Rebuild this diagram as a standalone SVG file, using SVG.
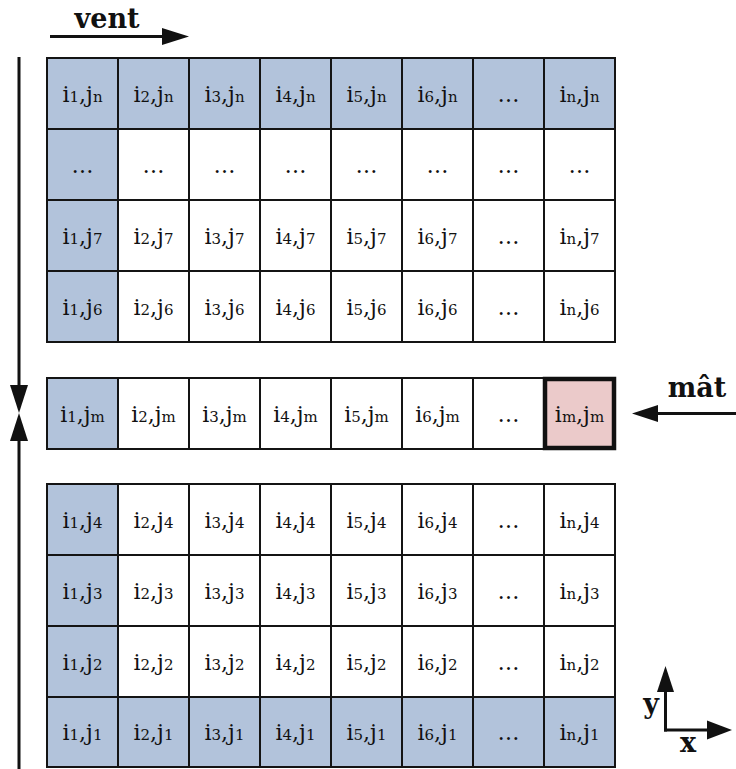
<svg xmlns="http://www.w3.org/2000/svg" width="736" height="769" viewBox="0 0 736 769">
<style>
.c{stroke:#141414;stroke-width:2}
.b{fill:#B2C3DB}
.w{fill:#ffffff}
.p{fill:#EBCACA;stroke:#111;stroke-width:4.5}
.t{font-family:"DejaVu Serif","Liberation Serif",serif;font-size:22px;text-anchor:middle;fill:#111}
.s{font-size:15px}
.lb{font-family:"DejaVu Serif","Liberation Serif",serif;font-size:27px;font-weight:bold;text-anchor:middle;fill:#111}
.ln{stroke:#111;stroke-width:3;fill:none}
.ah{fill:#111}
</style>
<rect width="736" height="769" fill="#fff"/>
<!-- top block row jn -->
<g id="r-i1-jn"><rect class="c b" x="47" y="58" width="71" height="71"/><text class="t" x="82.5" y="102">i<tspan class="s">1</tspan>,j<tspan class="s">n</tspan></text></g>
<g id="r-i2-jn"><rect class="c b" x="118" y="58" width="71" height="71"/><text class="t" x="153.5" y="102">i<tspan class="s">2</tspan>,j<tspan class="s">n</tspan></text></g>
<g id="r-i3-jn"><rect class="c b" x="189" y="58" width="71" height="71"/><text class="t" x="224.5" y="102">i<tspan class="s">3</tspan>,j<tspan class="s">n</tspan></text></g>
<g id="r-i4-jn"><rect class="c b" x="260" y="58" width="71" height="71"/><text class="t" x="295.5" y="102">i<tspan class="s">4</tspan>,j<tspan class="s">n</tspan></text></g>
<g id="r-i5-jn"><rect class="c b" x="331" y="58" width="71" height="71"/><text class="t" x="366.5" y="102">i<tspan class="s">5</tspan>,j<tspan class="s">n</tspan></text></g>
<g id="r-i6-jn"><rect class="c b" x="402" y="58" width="71" height="71"/><text class="t" x="437.5" y="102">i<tspan class="s">6</tspan>,j<tspan class="s">n</tspan></text></g>
<g id="r-dots-jn"><rect class="c b" x="473" y="58" width="71" height="71"/><text class="t" x="508.5" y="102">…</text></g>
<g id="r-in-jn"><rect class="c b" x="544" y="58" width="71" height="71"/><text class="t" x="579.5" y="102">i<tspan class="s">n</tspan>,j<tspan class="s">n</tspan></text></g>
<!-- dots row -->
<g id="r-i1-dots"><rect class="c b" x="47" y="129" width="71" height="71"/><text class="t" x="82.5" y="173">…</text></g>
<g id="r-i2-dots"><rect class="c w" x="118" y="129" width="71" height="71"/><text class="t" x="153.5" y="173">…</text></g>
<g id="r-i3-dots"><rect class="c w" x="189" y="129" width="71" height="71"/><text class="t" x="224.5" y="173">…</text></g>
<g id="r-i4-dots"><rect class="c w" x="260" y="129" width="71" height="71"/><text class="t" x="295.5" y="173">…</text></g>
<g id="r-i5-dots"><rect class="c w" x="331" y="129" width="71" height="71"/><text class="t" x="366.5" y="173">…</text></g>
<g id="r-i6-dots"><rect class="c w" x="402" y="129" width="71" height="71"/><text class="t" x="437.5" y="173">…</text></g>
<g id="r-dots-dots"><rect class="c w" x="473" y="129" width="71" height="71"/><text class="t" x="508.5" y="173">…</text></g>
<g id="r-in-dots"><rect class="c w" x="544" y="129" width="71" height="71"/><text class="t" x="579.5" y="173">…</text></g>
<!-- j7 -->
<g id="r-i1-j7"><rect class="c b" x="47" y="200" width="71" height="71"/><text class="t" x="82.5" y="244">i<tspan class="s">1</tspan>,j<tspan class="s">7</tspan></text></g>
<g id="r-i2-j7"><rect class="c w" x="118" y="200" width="71" height="71"/><text class="t" x="153.5" y="244">i<tspan class="s">2</tspan>,j<tspan class="s">7</tspan></text></g>
<g id="r-i3-j7"><rect class="c w" x="189" y="200" width="71" height="71"/><text class="t" x="224.5" y="244">i<tspan class="s">3</tspan>,j<tspan class="s">7</tspan></text></g>
<g id="r-i4-j7"><rect class="c w" x="260" y="200" width="71" height="71"/><text class="t" x="295.5" y="244">i<tspan class="s">4</tspan>,j<tspan class="s">7</tspan></text></g>
<g id="r-i5-j7"><rect class="c w" x="331" y="200" width="71" height="71"/><text class="t" x="366.5" y="244">i<tspan class="s">5</tspan>,j<tspan class="s">7</tspan></text></g>
<g id="r-i6-j7"><rect class="c w" x="402" y="200" width="71" height="71"/><text class="t" x="437.5" y="244">i<tspan class="s">6</tspan>,j<tspan class="s">7</tspan></text></g>
<g id="r-dots-j7"><rect class="c w" x="473" y="200" width="71" height="71"/><text class="t" x="508.5" y="244">…</text></g>
<g id="r-in-j7"><rect class="c w" x="544" y="200" width="71" height="71"/><text class="t" x="579.5" y="244">i<tspan class="s">n</tspan>,j<tspan class="s">7</tspan></text></g>
<!-- j6 -->
<g id="r-i1-j6"><rect class="c b" x="47" y="271" width="71" height="71"/><text class="t" x="82.5" y="315">i<tspan class="s">1</tspan>,j<tspan class="s">6</tspan></text></g>
<g id="r-i2-j6"><rect class="c w" x="118" y="271" width="71" height="71"/><text class="t" x="153.5" y="315">i<tspan class="s">2</tspan>,j<tspan class="s">6</tspan></text></g>
<g id="r-i3-j6"><rect class="c w" x="189" y="271" width="71" height="71"/><text class="t" x="224.5" y="315">i<tspan class="s">3</tspan>,j<tspan class="s">6</tspan></text></g>
<g id="r-i4-j6"><rect class="c w" x="260" y="271" width="71" height="71"/><text class="t" x="295.5" y="315">i<tspan class="s">4</tspan>,j<tspan class="s">6</tspan></text></g>
<g id="r-i5-j6"><rect class="c w" x="331" y="271" width="71" height="71"/><text class="t" x="366.5" y="315">i<tspan class="s">5</tspan>,j<tspan class="s">6</tspan></text></g>
<g id="r-i6-j6"><rect class="c w" x="402" y="271" width="71" height="71"/><text class="t" x="437.5" y="315">i<tspan class="s">6</tspan>,j<tspan class="s">6</tspan></text></g>
<g id="r-dots-j6"><rect class="c w" x="473" y="271" width="71" height="71"/><text class="t" x="508.5" y="315">…</text></g>
<g id="r-in-j6"><rect class="c w" x="544" y="271" width="71" height="71"/><text class="t" x="579.5" y="315">i<tspan class="s">n</tspan>,j<tspan class="s">6</tspan></text></g>
<!-- jm -->
<g id="r-i1-jm"><rect class="c b" x="47" y="378" width="71" height="71"/><text class="t" x="82.5" y="422">i<tspan class="s">1</tspan>,j<tspan class="s">m</tspan></text></g>
<g id="r-i2-jm"><rect class="c w" x="118" y="378" width="71" height="71"/><text class="t" x="153.5" y="422">i<tspan class="s">2</tspan>,j<tspan class="s">m</tspan></text></g>
<g id="r-i3-jm"><rect class="c w" x="189" y="378" width="71" height="71"/><text class="t" x="224.5" y="422">i<tspan class="s">3</tspan>,j<tspan class="s">m</tspan></text></g>
<g id="r-i4-jm"><rect class="c w" x="260" y="378" width="71" height="71"/><text class="t" x="295.5" y="422">i<tspan class="s">4</tspan>,j<tspan class="s">m</tspan></text></g>
<g id="r-i5-jm"><rect class="c w" x="331" y="378" width="71" height="71"/><text class="t" x="366.5" y="422">i<tspan class="s">5</tspan>,j<tspan class="s">m</tspan></text></g>
<g id="r-i6-jm"><rect class="c w" x="402" y="378" width="71" height="71"/><text class="t" x="437.5" y="422">i<tspan class="s">6</tspan>,j<tspan class="s">m</tspan></text></g>
<g id="r-dots-jm"><rect class="c w" x="473" y="378" width="71" height="71"/><text class="t" x="508.5" y="422">…</text></g>
<g id="r-im-jm"><rect class="p" x="545" y="379" width="69" height="69"/><text class="t" x="579.5" y="422">i<tspan class="s">m</tspan>,j<tspan class="s">m</tspan></text></g>
<!-- j4 -->
<g id="r-i1-j4"><rect class="c b" x="47" y="484" width="71" height="71"/><text class="t" x="82.5" y="528">i<tspan class="s">1</tspan>,j<tspan class="s">4</tspan></text></g>
<g id="r-i2-j4"><rect class="c w" x="118" y="484" width="71" height="71"/><text class="t" x="153.5" y="528">i<tspan class="s">2</tspan>,j<tspan class="s">4</tspan></text></g>
<g id="r-i3-j4"><rect class="c w" x="189" y="484" width="71" height="71"/><text class="t" x="224.5" y="528">i<tspan class="s">3</tspan>,j<tspan class="s">4</tspan></text></g>
<g id="r-i4-j4"><rect class="c w" x="260" y="484" width="71" height="71"/><text class="t" x="295.5" y="528">i<tspan class="s">4</tspan>,j<tspan class="s">4</tspan></text></g>
<g id="r-i5-j4"><rect class="c w" x="331" y="484" width="71" height="71"/><text class="t" x="366.5" y="528">i<tspan class="s">5</tspan>,j<tspan class="s">4</tspan></text></g>
<g id="r-i6-j4"><rect class="c w" x="402" y="484" width="71" height="71"/><text class="t" x="437.5" y="528">i<tspan class="s">6</tspan>,j<tspan class="s">4</tspan></text></g>
<g id="r-dots-j4"><rect class="c w" x="473" y="484" width="71" height="71"/><text class="t" x="508.5" y="528">…</text></g>
<g id="r-in-j4"><rect class="c w" x="544" y="484" width="71" height="71"/><text class="t" x="579.5" y="528">i<tspan class="s">n</tspan>,j<tspan class="s">4</tspan></text></g>
<!-- j3 -->
<g id="r-i1-j3"><rect class="c b" x="47" y="555" width="71" height="71"/><text class="t" x="82.5" y="599">i<tspan class="s">1</tspan>,j<tspan class="s">3</tspan></text></g>
<g id="r-i2-j3"><rect class="c w" x="118" y="555" width="71" height="71"/><text class="t" x="153.5" y="599">i<tspan class="s">2</tspan>,j<tspan class="s">3</tspan></text></g>
<g id="r-i3-j3"><rect class="c w" x="189" y="555" width="71" height="71"/><text class="t" x="224.5" y="599">i<tspan class="s">3</tspan>,j<tspan class="s">3</tspan></text></g>
<g id="r-i4-j3"><rect class="c w" x="260" y="555" width="71" height="71"/><text class="t" x="295.5" y="599">i<tspan class="s">4</tspan>,j<tspan class="s">3</tspan></text></g>
<g id="r-i5-j3"><rect class="c w" x="331" y="555" width="71" height="71"/><text class="t" x="366.5" y="599">i<tspan class="s">5</tspan>,j<tspan class="s">3</tspan></text></g>
<g id="r-i6-j3"><rect class="c w" x="402" y="555" width="71" height="71"/><text class="t" x="437.5" y="599">i<tspan class="s">6</tspan>,j<tspan class="s">3</tspan></text></g>
<g id="r-dots-j3"><rect class="c w" x="473" y="555" width="71" height="71"/><text class="t" x="508.5" y="599">…</text></g>
<g id="r-in-j3"><rect class="c w" x="544" y="555" width="71" height="71"/><text class="t" x="579.5" y="599">i<tspan class="s">n</tspan>,j<tspan class="s">3</tspan></text></g>
<!-- j2 -->
<g id="r-i1-j2"><rect class="c b" x="47" y="626" width="71" height="71"/><text class="t" x="82.5" y="670">i<tspan class="s">1</tspan>,j<tspan class="s">2</tspan></text></g>
<g id="r-i2-j2"><rect class="c w" x="118" y="626" width="71" height="71"/><text class="t" x="153.5" y="670">i<tspan class="s">2</tspan>,j<tspan class="s">2</tspan></text></g>
<g id="r-i3-j2"><rect class="c w" x="189" y="626" width="71" height="71"/><text class="t" x="224.5" y="670">i<tspan class="s">3</tspan>,j<tspan class="s">2</tspan></text></g>
<g id="r-i4-j2"><rect class="c w" x="260" y="626" width="71" height="71"/><text class="t" x="295.5" y="670">i<tspan class="s">4</tspan>,j<tspan class="s">2</tspan></text></g>
<g id="r-i5-j2"><rect class="c w" x="331" y="626" width="71" height="71"/><text class="t" x="366.5" y="670">i<tspan class="s">5</tspan>,j<tspan class="s">2</tspan></text></g>
<g id="r-i6-j2"><rect class="c w" x="402" y="626" width="71" height="71"/><text class="t" x="437.5" y="670">i<tspan class="s">6</tspan>,j<tspan class="s">2</tspan></text></g>
<g id="r-dots-j2"><rect class="c w" x="473" y="626" width="71" height="71"/><text class="t" x="508.5" y="670">…</text></g>
<g id="r-in-j2"><rect class="c w" x="544" y="626" width="71" height="71"/><text class="t" x="579.5" y="670">i<tspan class="s">n</tspan>,j<tspan class="s">2</tspan></text></g>
<!-- j1 -->
<g id="r-i1-j1"><rect class="c b" x="47" y="697" width="71" height="70"/><text class="t" x="82.5" y="740">i<tspan class="s">1</tspan>,j<tspan class="s">1</tspan></text></g>
<g id="r-i2-j1"><rect class="c b" x="118" y="697" width="71" height="70"/><text class="t" x="153.5" y="740">i<tspan class="s">2</tspan>,j<tspan class="s">1</tspan></text></g>
<g id="r-i3-j1"><rect class="c b" x="189" y="697" width="71" height="70"/><text class="t" x="224.5" y="740">i<tspan class="s">3</tspan>,j<tspan class="s">1</tspan></text></g>
<g id="r-i4-j1"><rect class="c b" x="260" y="697" width="71" height="70"/><text class="t" x="295.5" y="740">i<tspan class="s">4</tspan>,j<tspan class="s">1</tspan></text></g>
<g id="r-i5-j1"><rect class="c b" x="331" y="697" width="71" height="70"/><text class="t" x="366.5" y="740">i<tspan class="s">5</tspan>,j<tspan class="s">1</tspan></text></g>
<g id="r-i6-j1"><rect class="c b" x="402" y="697" width="71" height="70"/><text class="t" x="437.5" y="740">i<tspan class="s">6</tspan>,j<tspan class="s">1</tspan></text></g>
<g id="r-dots-j1"><rect class="c b" x="473" y="697" width="71" height="70"/><text class="t" x="508.5" y="740">…</text></g>
<g id="r-in-j1"><rect class="c b" x="544" y="697" width="71" height="70"/><text class="t" x="579.5" y="740">i<tspan class="s">n</tspan>,j<tspan class="s">1</tspan></text></g>
<!-- labels -->
<g id="lbl-vent"><text class="lb" x="107" y="28">vent</text></g>
<g id="lbl-mat"><text class="lb" x="697" y="397">mât</text></g>
<g id="lbl-y"><text class="lb" x="651" y="713">y</text></g>
<g id="lbl-x"><text class="lb" x="688" y="752">x</text></g>
<!-- connectors -->
<g id="connectors">
<line class="ln" x1="50" y1="36.5" x2="164" y2="36.5"/>
<polygon class="ah" points="162,28 162,45 189,36.5"/>
<line class="ln" x1="19" y1="57" x2="19" y2="387"/>
<polygon class="ah" points="10,385 28,385 19,413"/>
<line class="ln" x1="19" y1="769" x2="19" y2="439"/>
<polygon class="ah" points="10,441 28,441 19,413"/>
<line class="ln" x1="736" y1="413.5" x2="656" y2="413.5"/>
<polygon class="ah" points="658,405 658,422 632,413.5"/>
<line class="ln" x1="665.5" y1="731.5" x2="665.5" y2="690"/>
<polygon class="ah" points="657,692 674,692 665.5,666"/>
<line class="ln" x1="664" y1="730" x2="709" y2="730"/>
<polygon class="ah" points="707,720.5 707,739.5 732,730"/>
</g>
</svg>
